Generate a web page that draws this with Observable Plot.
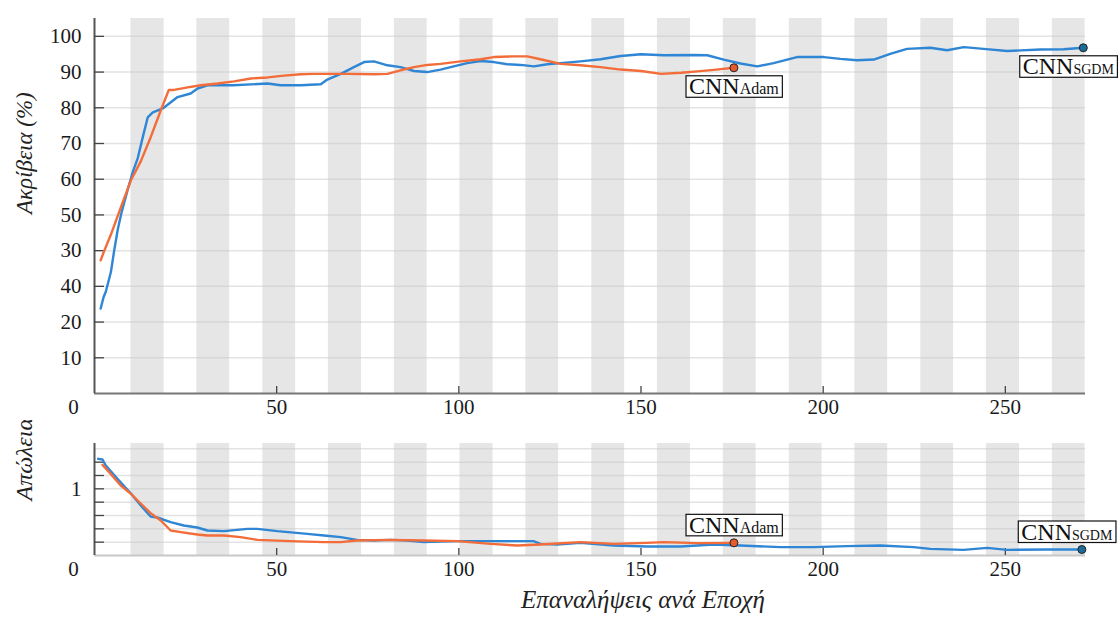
<!DOCTYPE html>
<html><head><meta charset="utf-8">
<script src="https://cdn.jsdelivr.net/npm/d3@7"></script>
<script src="https://cdn.jsdelivr.net/npm/@observablehq/plot@0.6"></script>
<style>
body{margin:0;background:#fff;}
#chart{width:1120px;height:622px;position:relative;overflow:hidden;}
#chart svg{display:block;}
#chart svg text{font-family:"Liberation Serif","Times New Roman",serif;}
</style></head><body><div id="chart"></div>
<script>
// ---- data ----
const sgdmAccIter = [1.7,2.5,3.1,4.5,5.4,6.4,7.5,9.1,10.5,11.9,13.3,14.6,16,17.4,19,22.8,26.4,28.3,31,38,47.5,51.1,56.6,62.1,63.9,67.6,71.2,74,76.7,80.4,84,87.7,91.3,95,98.6,102.3,106,109.6,113.3,117,120.6,124.3,127.9,133.4,138.9,144.4,150,156.3,164.5,168.2,172.7,177.3,181.9,186.4,192.8,200.2,204.7,209.3,213.9,218.4,223,229.4,234,238.6,244,250.5,259.6,266,271.4];
const sgdmAcc = [23.8,27,28.5,34,40,46,51,57,62,66,72,77.3,78.7,79.3,80,83,84,85.4,86.3,86.3,86.8,86.3,86.3,86.6,87.9,89.5,91.4,92.8,93,91.9,91.4,90.3,90,90.7,91.6,92.5,93.1,92.8,92.2,92,91.6,92.2,92.5,93,93.6,94.5,95,94.7,94.8,94.7,93.5,92.4,91.6,92.5,94.2,94.2,93.7,93.3,93.5,95.1,96.5,96.8,96.1,97,96.5,95.9,96.3,96.4,96.8];
const adamAccIter = [1.7,2.5,4.5,7.2,10,12.7,15.4,18.2,20.4,21.8,25.6,29.2,33.8,38.3,42.9,47.5,52,56.6,60.2,69.4,76.7,80.4,84,87.7,91.3,95,100.5,106,109.6,115.1,118.8,122.4,127.9,133.4,138.9,144.4,150,155.5,161,165.4,170,175.5];
const adamAcc = [37.3,39.5,44.5,52,59.7,65,71.7,79.3,85,85,85.7,86.3,86.8,87.4,88.2,88.5,89,89.4,89.5,89.5,89.4,89.5,90.5,91.4,92,92.3,93,93.6,94.2,94.4,94.4,93.6,92.3,91.9,91.4,90.7,90.3,89.5,89.8,90.2,90.6,91.2];
const sgdmLossIter = [1,2.2,3.1,6.3,10,12.7,15.4,17.2,20.9,24.5,28.2,31,35.5,42,44.7,50.2,58.4,63,67.6,72,76.7,81.3,85.8,90.4,99.6,108.7,120.5,122.4,127,133.4,142.5,151.7,160.8,170,177.3,188.3,197.3,206.5,215.7,224.8,229.4,238.5,245,250.5,261.4,271];
const sgdmLoss = [1.45,1.44,1.35,1.15,0.93,0.75,0.585,0.57,0.5,0.45,0.42,0.375,0.365,0.4,0.4,0.365,0.325,0.3,0.275,0.235,0.225,0.235,0.225,0.2,0.215,0.215,0.215,0.175,0.165,0.19,0.15,0.135,0.135,0.165,0.15,0.125,0.125,0.14,0.15,0.125,0.1,0.085,0.115,0.085,0.09,0.09];
const adamLossIter = [2.2,4.5,7.2,10,12.7,15.4,18.2,20.9,23.7,28.2,31,35.5,40.1,44.7,53.8,63,67.6,72,81.3,90.4,99.6,108.7,116,122.4,133.4,142.5,151.7,156.2,165.4,175.5];
const adamLoss = [1.36,1.22,1.05,0.925,0.78,0.635,0.525,0.375,0.35,0.315,0.3,0.3,0.275,0.235,0.215,0.2,0.2,0.225,0.235,0.225,0.215,0.175,0.15,0.165,0.2,0.175,0.19,0.2,0.185,0.19];

// shaded epochs
const bandStart = [10,28.1,46.2,64.2,82.3,100.3,118.4,136.5,154.5,172.6,190.7,208.7,226.8,244.8,262.9];
const bandEnd   = [19.1,37.1,55.2,73.3,91.3,109.4,127.4,145.5,163.6,181.6,199.7,217.7,235.8,253.9,271.9];

// ticks
const xTicks = [50,100,150,200,250];
const accTicks = [10,20,30,40,50,60,70,80,90,100];
const accTickLabels = ["10","20","40","30","50","60","70","80","90","100"];
const lossGrid = [0.2,0.4,0.6,0.8,1,1.2,1.4,1.6];
const lossTicks = [0.2,0.4,0.6,0.8,1,1.2,1.4];
const lossTickLabels = ["","","","","1","",""];

const accTitle = "Ακρίβεια (%)";
const lossTitle = "Απώλεια";
const xTitle = "Επαναλήψεις ανά Εποχή";
const nameAdam = "CNN_Adam";
const nameSgdm = "CNN_SGDM";

// ---- build ----
const FONT = "Liberation Serif";
const TICK = 21;
const zip = (xs, ys) => xs.map((x, i) => ({x, y: ys[i]}));
const bands = bandStart.map((s, i) => ({s, e: bandEnd[i]}));
const BLUE = "#2f86d4", ORANGE = "#f26d3a", BLUE_DOT = "#1b6b9a", ORANGE_DOT = "#e85a2c";

function panel({height, marginTop, marginBottom, yDomain, grid, ticks, labels, sgdm, adam, baseColor, annoDy, extra = []}) {
  const lab = new Map(ticks.map((t, i) => [t, labels[i]]));
  return Plot.plot({
    width: 1120, height, marginLeft: 94, marginRight: 35, marginTop, marginBottom,
    style: {fontFamily: FONT, fontSize: TICK + "px", color: "#1a1a1a", background: "white"},
    x: {domain: [0, 272]},
    y: {domain: yDomain},
    marks: [
      Plot.rect(bands, {x1: "s", x2: "e", fill: "#e6e6e6"}),
      Plot.gridY(grid, {stroke: "#c8c8c8", strokeOpacity: 0.5, strokeWidth: 1.5}),
      Plot.ruleY([0], {stroke: baseColor, strokeWidth: 2}),
      Plot.ruleX([0], {stroke: "#555", strokeWidth: 2}),
      Plot.axisY(ticks, {label: null, tickSize: -10, tickPadding: 23, tickFormat: d => lab.get(d), stroke: "#444", strokeWidth: 1.3, fontFamily: FONT, fontSize: TICK}),
      Plot.axisX(xTicks, {label: null, tickSize: -7, tickPadding: 13, stroke: "#444", strokeWidth: 1.3, fontFamily: FONT, fontSize: TICK}),
      Plot.axisX([0], {label: null, tickSize: 0, tickPadding: 6, dx: -21, fontFamily: FONT, fontSize: TICK}),
      Plot.line(sgdm, {x: "x", y: "y", stroke: BLUE, strokeWidth: 2.4}),
      Plot.line(adam, {x: "x", y: "y", stroke: ORANGE, strokeWidth: 2.4}),
      Plot.dot(sgdm, Plot.selectLast({x: "x", y: "y", r: 4, fill: BLUE_DOT, stroke: "#222", strokeWidth: 1})),
      Plot.dot(adam, Plot.selectLast({x: "x", y: "y", r: 4, fill: ORANGE_DOT, stroke: "#222", strokeWidth: 1})),
      Plot.text(adam, Plot.selectLast({x: "x", y: "y", text: () => nameAdam, dy: annoDy, fill: "#111", fontSize: 24, fontFamily: FONT})),
      Plot.text(sgdm, Plot.selectLast({x: "x", y: "y", text: () => nameSgdm, dy: annoDy, dx: -15, fill: "#111", fontSize: 24, fontFamily: FONT})),
      ...extra
    ]
  });
}

const topPanel = panel({
  height: 420, marginTop: 18, marginBottom: 27, yDomain: [0, 105],
  grid: accTicks, ticks: accTicks, labels: accTickLabels,
  sgdm: zip(sgdmAccIter, sgdmAcc), adam: zip(adamAccIter, adamAcc),
  baseColor: "#777", annoDy: 26.5,
  extra: [Plot.text([accTitle], {frameAnchor: "left", rotate: -90, dx: -70, dy: 8, fontSize: 23, fontStyle: "italic", fontFamily: FONT, fill: "#222"})]
});
const bottomPanel = panel({
  height: 202, marginTop: 23, marginBottom: 67, yDomain: [0, 1.68],
  grid: lossGrid, ticks: lossTicks, labels: lossTickLabels,
  sgdm: zip(sgdmLossIter, sgdmLoss), adam: zip(adamLossIter, adamLoss),
  baseColor: "#c8c8c8", annoDy: -10,
  extra: [
    Plot.text([lossTitle], {frameAnchor: "left", rotate: -90, dx: -70, dy: 1, fontSize: 24, fontStyle: "italic", fontFamily: FONT, fill: "#222"}),
    Plot.text([xTitle], {frameAnchor: "bottom", dx: 53, dy: 52, fontSize: 25, fontStyle: "italic", fontFamily: FONT, fill: "#222"})
  ]
});

const host = document.getElementById("chart");
host.append(topPanel, bottomPanel);

const NS = "http://www.w3.org/2000/svg";
function boxAnnotations(svg) {
  svg.querySelectorAll("text").forEach(t => {
    const s = t.textContent;
    if (!s.includes("_")) return;
    const [main, sub] = s.split("_");
    t.textContent = "";
    t.setAttribute("y", "0");
    t.removeAttribute("dy");
    const a = document.createElementNS(NS, "tspan");
    a.textContent = main; a.setAttribute("font-size", "24");
    const b = document.createElementNS(NS, "tspan");
    b.textContent = sub; b.setAttribute("font-size", sub === sub.toUpperCase() ? "14" : "16");
    t.append(a, b);
    const bb = t.getBBox();
    const r = document.createElementNS(NS, "rect");
    r.setAttribute("x", bb.x - 3);
    r.setAttribute("y", -18.5);
    r.setAttribute("width", bb.width + 6);
    r.setAttribute("height", 21.5);
    r.setAttribute("fill", "white");
    r.setAttribute("stroke", "#111");
    r.setAttribute("stroke-width", "1.2");
    if (t.getAttribute("transform")) r.setAttribute("transform", t.getAttribute("transform"));
    t.parentNode.insertBefore(r, t);
  });
}
boxAnnotations(topPanel);
boxAnnotations(bottomPanel);
</script></body></html>
